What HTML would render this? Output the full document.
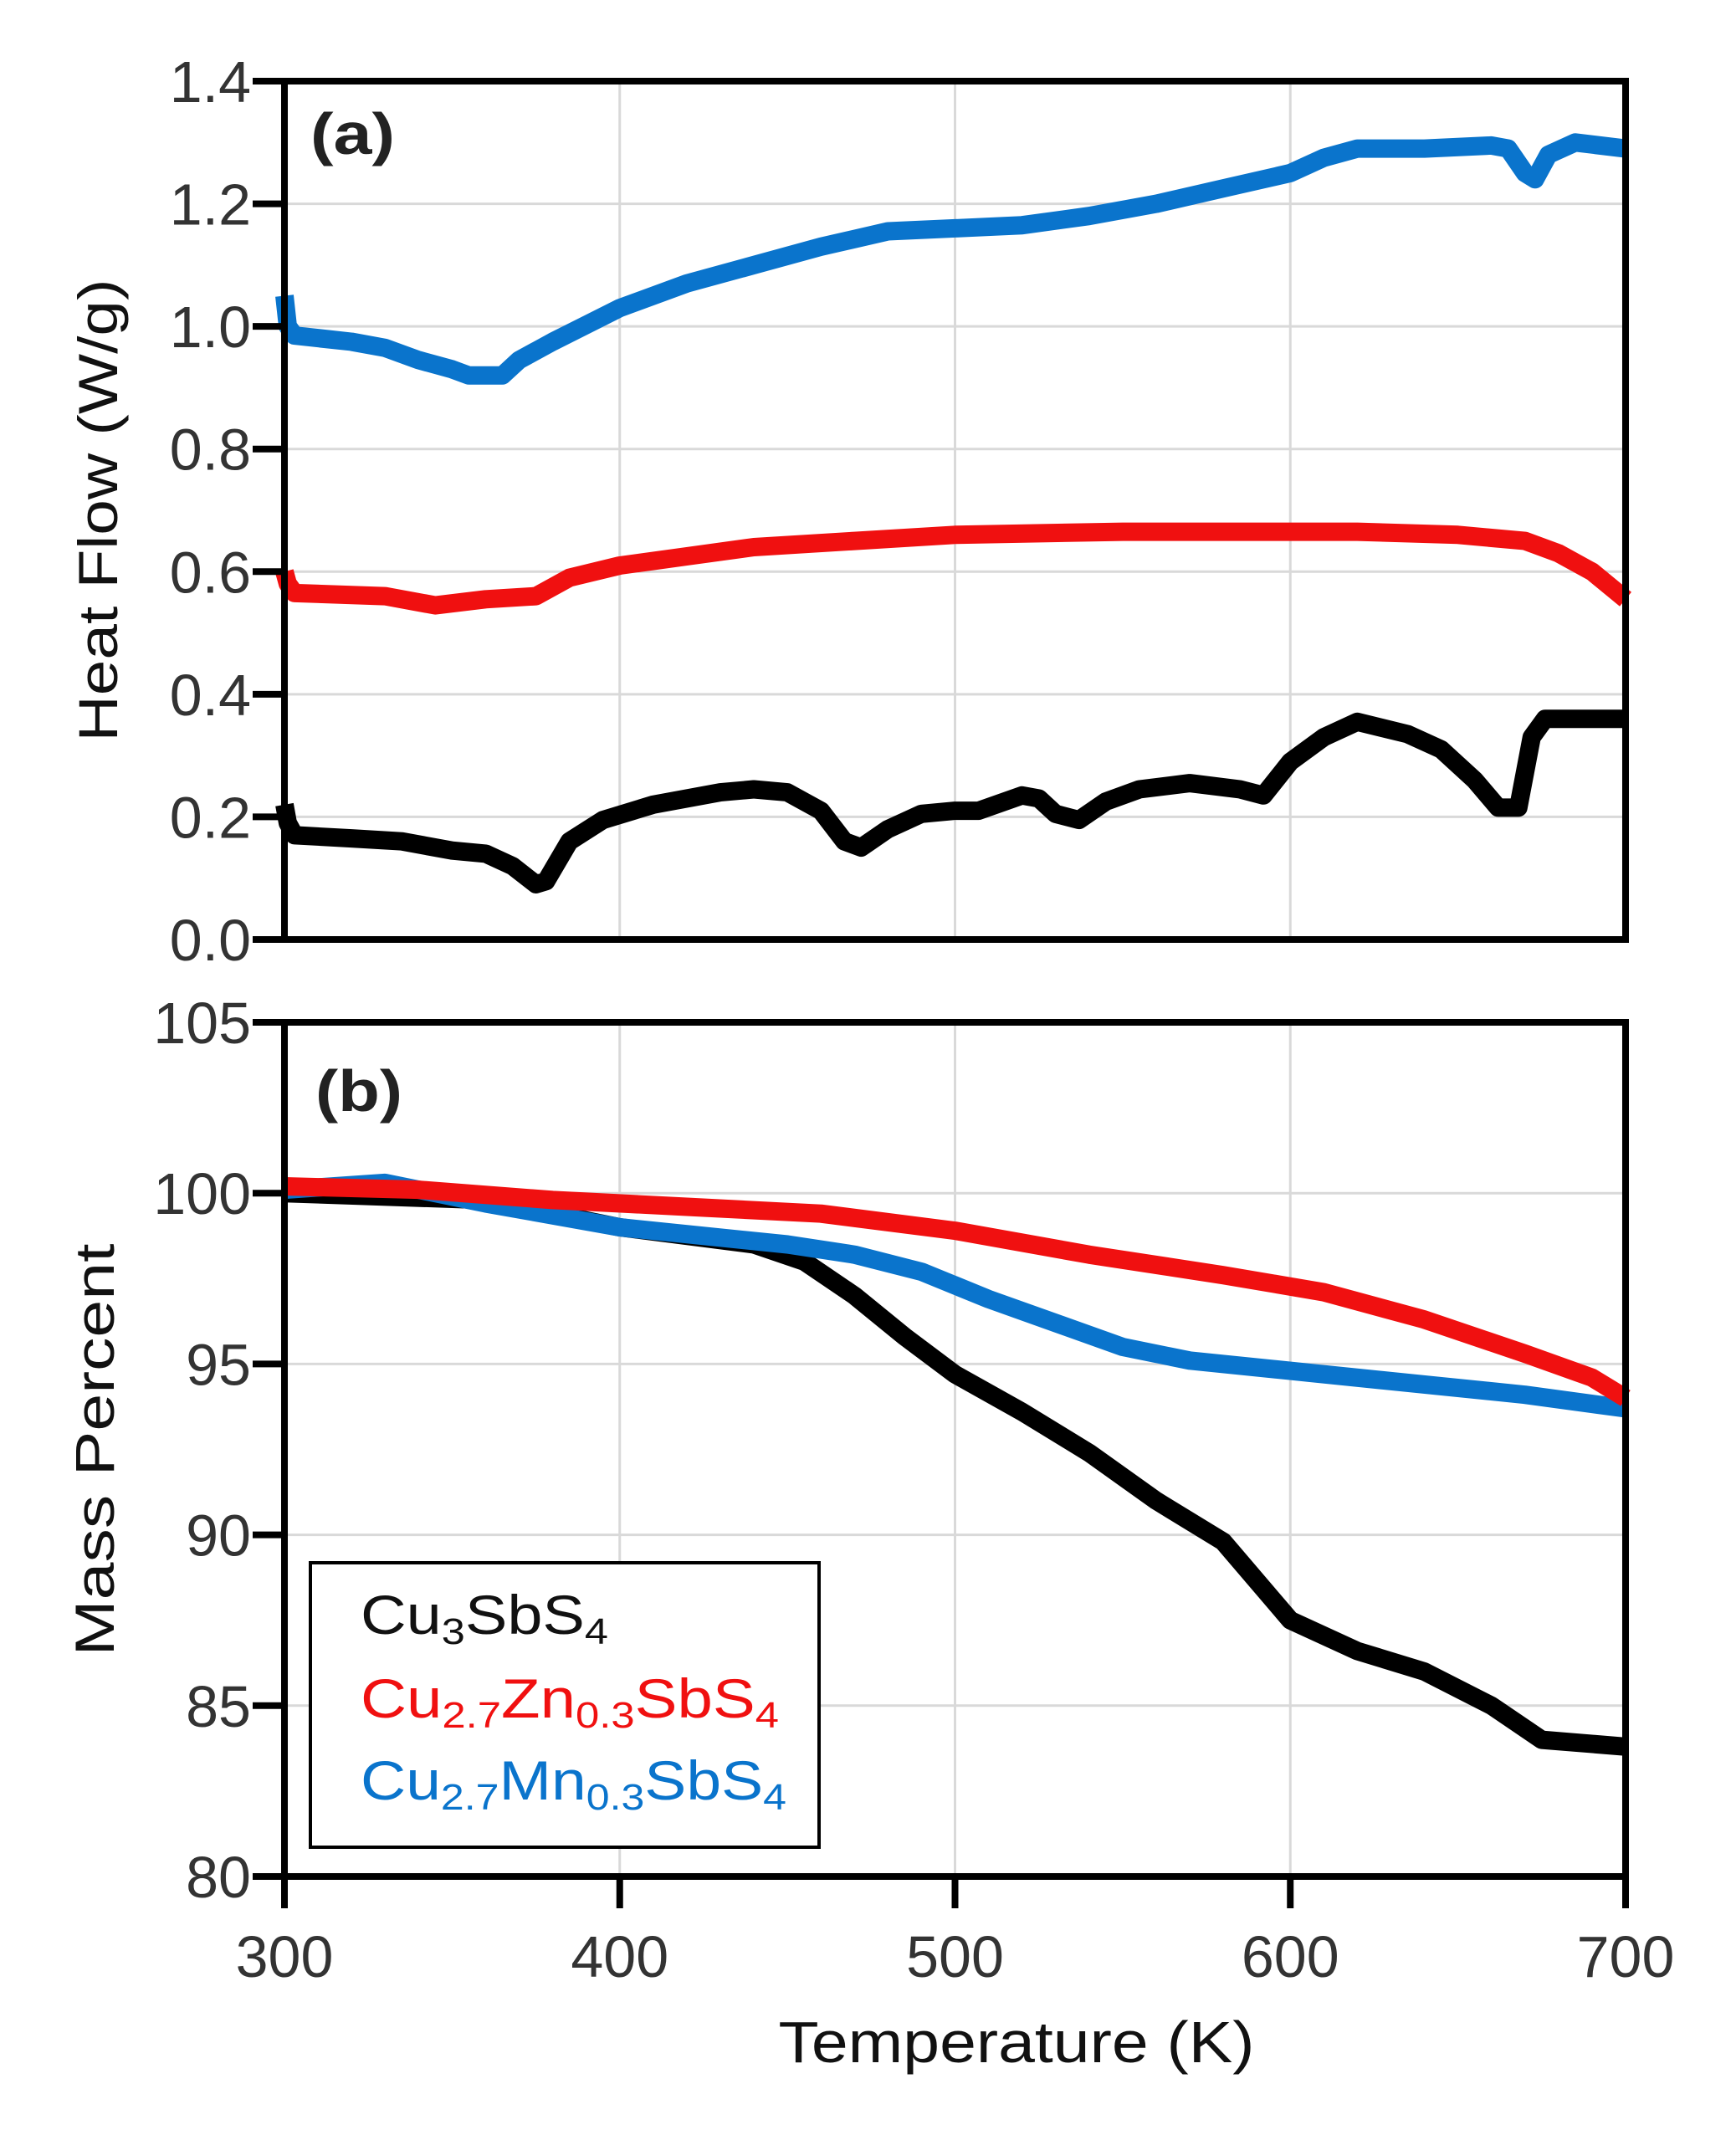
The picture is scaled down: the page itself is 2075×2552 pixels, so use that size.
<!DOCTYPE html>
<html><head><meta charset="utf-8"><style>
html,body{margin:0;padding:0;background:#fff}
svg{display:block}
text{font-family:"Liberation Sans",Arial,sans-serif}
</style></head><body>
<svg id="chart" width="2075" height="2552" viewBox="0 0 2075 2552" xmlns="http://www.w3.org/2000/svg">
<g id="gridA"></g>
<g id="gridB"></g>
<g id="seriesA"></g>
<g id="seriesB"></g>
<g id="axes"></g>
<text x="371" y="184" font-size="70" font-weight="bold" fill="#222" textLength="101" lengthAdjust="spacingAndGlyphs">(a)</text>
<text x="377" y="1328" font-size="70" font-weight="bold" fill="#222" textLength="104" lengthAdjust="spacingAndGlyphs">(b)</text>
<text transform="translate(140,610) rotate(-90)" text-anchor="middle" font-size="66" fill="#111" textLength="553" lengthAdjust="spacingAndGlyphs">Heat Flow (W/g)</text>
<text transform="translate(136,1733) rotate(-90)" text-anchor="middle" font-size="66" fill="#111" textLength="493" lengthAdjust="spacingAndGlyphs">Mass Percent</text>
<text x="1215" y="2465" text-anchor="middle" font-size="70" fill="#111" textLength="569" lengthAdjust="spacingAndGlyphs">Temperature (K)</text>
<g>
<rect x="371" y="1868" width="608" height="340" fill="#fff" stroke="#000" stroke-width="4"/>
<text x="431" y="1953" font-size="66" fill="#111" textLength="296" lengthAdjust="spacingAndGlyphs">Cu<tspan font-size="44" dy="12">3</tspan><tspan dy="-12">SbS</tspan><tspan font-size="44" dy="12">4</tspan></text>
<text x="431" y="2053" font-size="66" fill="#f01010" textLength="500" lengthAdjust="spacingAndGlyphs">Cu<tspan font-size="44" dy="12">2.7</tspan><tspan dy="-12">Zn</tspan><tspan font-size="44" dy="12">0.3</tspan><tspan dy="-12">SbS</tspan><tspan font-size="44" dy="12">4</tspan></text>
<text x="431" y="2151" font-size="66" fill="#0a74cc" textLength="509" lengthAdjust="spacingAndGlyphs">Cu<tspan font-size="44" dy="12">2.7</tspan><tspan dy="-12">Mn</tspan><tspan font-size="44" dy="12">0.3</tspan><tspan dy="-12">SbS</tspan><tspan font-size="44" dy="12">4</tspan></text>
</g>
</svg>
<script>
const xTicks=[300,400,500,600,700];
const yTicksA=[0.0,0.2,0.4,0.6,0.8,1.0,1.2,1.4];
const yTicksB=[80,85,90,95,100,105];
const hfBlueT=[300,301,303,320,330,340,350,355,365,370,380,400,420,440,460,480,500,520,540,560,580,600,610,620,640,660,665,670,673,677,685,700];
const hfBlueV=[1.05,1.0,0.985,0.975,0.965,0.945,0.93,0.92,0.92,0.945,0.975,1.03,1.07,1.10,1.13,1.155,1.16,1.165,1.18,1.20,1.225,1.25,1.275,1.29,1.29,1.295,1.29,1.25,1.24,1.28,1.30,1.29];
const hfRedT=[300,301,303,330,345,360,375,385,400,420,440,470,500,550,600,620,650,670,680,690,700];
const hfRedV=[0.60,0.58,0.565,0.56,0.545,0.555,0.56,0.59,0.61,0.625,0.64,0.65,0.66,0.665,0.665,0.665,0.66,0.65,0.63,0.60,0.555];
const hfBlackT=[300,301,303,320,335,350,360,368,375,378,385,395,410,430,440,450,460,467,472,480,490,500,507,520,525,530,537,545,555,570,585,592,600,610,620,635,645,655,662,668,672,676,700];
const hfBlackV=[0.22,0.19,0.17,0.165,0.16,0.145,0.14,0.12,0.09,0.095,0.16,0.195,0.22,0.24,0.245,0.24,0.21,0.16,0.15,0.18,0.205,0.21,0.21,0.235,0.23,0.205,0.195,0.225,0.245,0.255,0.245,0.235,0.29,0.33,0.355,0.335,0.31,0.26,0.215,0.215,0.33,0.36,0.36];
const mBlueT=[300,330,360,400,450,470,490,510,530,550,570,600,640,670,700];
const mBlueV=[100.1,100.3,99.7,99.0,98.5,98.2,97.7,96.9,96.2,95.5,95.1,94.8,94.4,94.1,93.7];
const mRedT=[300,340,380,420,460,500,540,580,610,640,670,690,700];
const mRedV=[100.2,100.1,99.8,99.6,99.4,98.9,98.2,97.6,97.1,96.3,95.3,94.6,94.0];
const mBlackT=[300,360,400,440,455,470,485,500,520,540,560,580,600,620,640,660,675,700];
const mBlackV=[100.0,99.8,99.0,98.5,98.0,97.0,95.8,94.7,93.6,92.4,91.0,89.8,87.5,86.6,86.0,85.0,84.0,83.8];

const NS='http://www.w3.org/2000/svg';
const L=340,R=1943,TA=97,BA=1123,TB=1222,BB=2243;
const xs=t=>L+(t-300)/400*(R-L);
const ysA=v=>BA-v/1.4*(BA-TA);
const ysB=v=>BB-(v-80)/25*(BB-TB);
function mk(tag,attrs,parent){const e=document.createElementNS(NS,tag);for(const k in attrs)e.setAttribute(k,attrs[k]);parent.appendChild(e);return e;}
const gA=document.getElementById('gridA'),gB=document.getElementById('gridB'),ax=document.getElementById('axes');
xTicks.forEach(t=>{
  let l1=mk('line',{x1:xs(t),x2:xs(t),y1:TA,y2:BA,stroke:'#d9d9d9','stroke-width':3},gA);
  
  
  let l2=mk('line',{x1:xs(t),x2:xs(t),y1:TB,y2:BB,stroke:'#d9d9d9','stroke-width':3},gB);
  
  
  let tk=mk('line',{x1:xs(t),x2:xs(t),y1:BB,y2:BB+38,stroke:'#000','stroke-width':8},ax);
  
  
  let tx=mk('text',{x:xs(t),y:2363,'text-anchor':'middle','font-size':70,fill:'#333'},ax);
  tx.textContent=t;
  
  
});
yTicksA.forEach(v=>{
  let g=mk('line',{x1:L,x2:R,y1:ysA(v),y2:ysA(v),stroke:'#d9d9d9','stroke-width':3},gA);
  
  
  let tk=mk('line',{x1:L-38,x2:L,y1:ysA(v),y2:ysA(v),stroke:'#000','stroke-width':8},ax);
  
  
  let tx=mk('text',{x:300,y:ysA(v)+25,'text-anchor':'end','font-size':70,fill:'#333'},ax);
  tx.textContent=v.toFixed(1);
  
  
});
yTicksB.forEach(v=>{
  let g=mk('line',{x1:L,x2:R,y1:ysB(v),y2:ysB(v),stroke:'#d9d9d9','stroke-width':3},gB);
  
  
  let tk=mk('line',{x1:L-38,x2:L,y1:ysB(v),y2:ysB(v),stroke:'#000','stroke-width':8},ax);
  
  
  let tx=mk('text',{x:300,y:ysB(v)+25,'text-anchor':'end','font-size':70,fill:'#333'},ax);
  tx.textContent=v;
  
  
});
let fa=mk('rect',{x:L,y:TA,width:R-L,height:BA-TA,fill:'none',stroke:'#000','stroke-width':8},ax);


let fb=mk('rect',{x:L,y:TB,width:R-L,height:BB-TB,fill:'none',stroke:'#000','stroke-width':8},ax);


function line(T,V,ys,color,parent,name){
  const d=T.map((t,i)=>(i?'L':'M')+xs(t).toFixed(1)+','+ys(V[i]).toFixed(1)).join(' ');
  const p=mk('path',{d:d,fill:'none',stroke:color,'stroke-width':22,'stroke-linejoin':'round','stroke-linecap':'butt'},parent);
  
  
}
const sA=document.getElementById('seriesA'),sB=document.getElementById('seriesB');
line(hfBlackT,hfBlackV,ysA,'#000',sA,'heatflow-cu3sbs4-line');
line(hfRedT,hfRedV,ysA,'#f01010',sA,'heatflow-zn-line');
line(hfBlueT,hfBlueV,ysA,'#0a74cc',sA,'heatflow-mn-line');
line(mBlackT,mBlackV,ysB,'#000',sB,'mass-cu3sbs4-line');
line(mBlueT,mBlueV,ysB,'#0a74cc',sB,'mass-mn-line');
line(mRedT,mRedV,ysB,'#f01010',sB,'mass-zn-line');
</script>
</body></html>
